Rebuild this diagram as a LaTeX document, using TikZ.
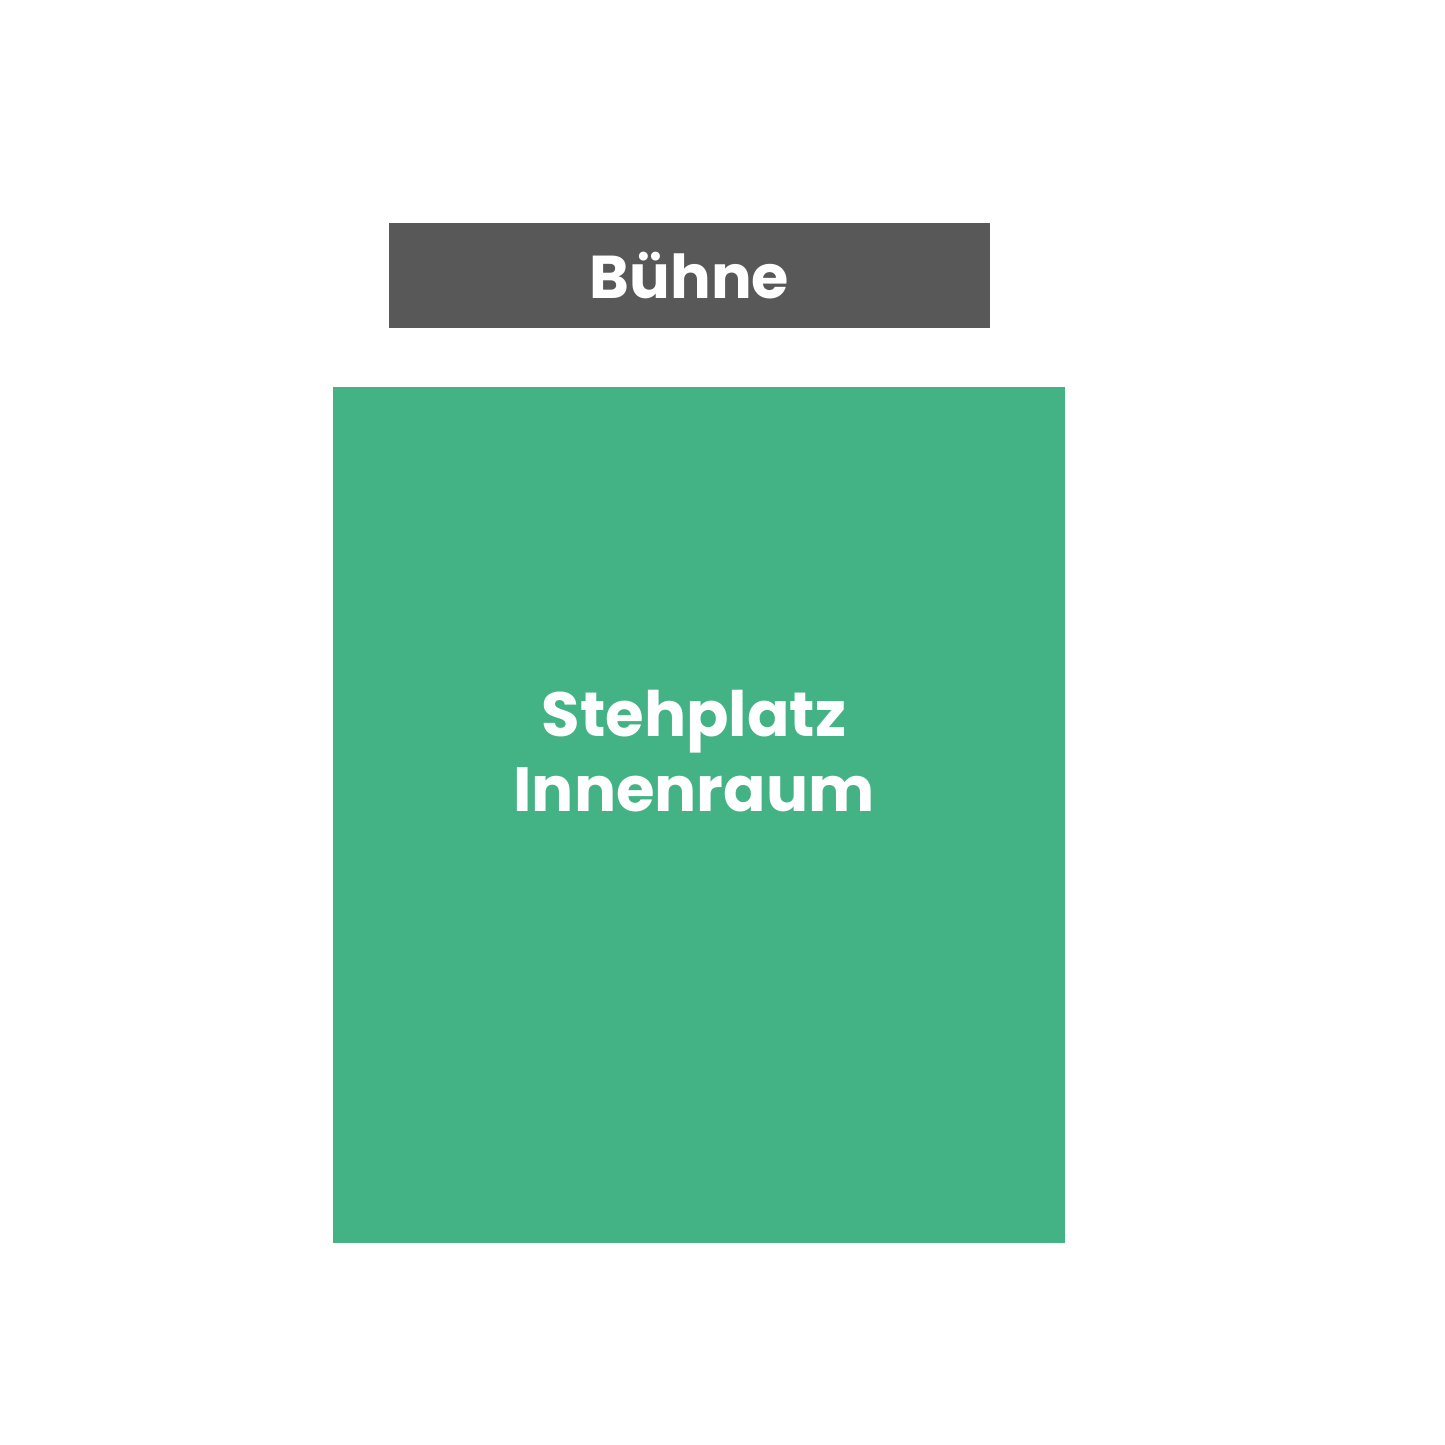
\documentclass[tikz,border=0pt]{standalone}
\usepackage{fontspec}
\setmainfont{Poppins}
\usepackage{xcolor}
\usepackage{tikz}
\usetikzlibrary{positioning}
\definecolor{stagegray}{HTML}{585858}
\definecolor{floorgreen}{HTML}{43B284}

\begin{document}
\begin{tikzpicture}[
    stage/.style={rectangle, fill=stagegray, text=white, minimum width=6.01cm, minimum height=1.05cm, inner sep=0pt, font=\fontsize{17.2}{20}\selectfont\bfseries},
    floor/.style={rectangle, fill=floorgreen, minimum width=7.32cm, minimum height=8.56cm, inner sep=0pt},
    floorlabel/.style={text=white, align=center, inner sep=0pt, font=\fontsize{17.8}{21.3}\selectfont\bfseries}
]
    \useasboundingbox (0,0) rectangle (14.45,14.45);

    % Stage
    \node[stage] (buehne) at (6.895,11.695) {Bühne};

    % Standing area
    \node[floor] (innenraum) at (6.99,6.30) {};
    \node[floorlabel] (stehplatz) at (6.94,6.94) {Stehplatz\\Innenraum};

\end{tikzpicture}
\end{document}
